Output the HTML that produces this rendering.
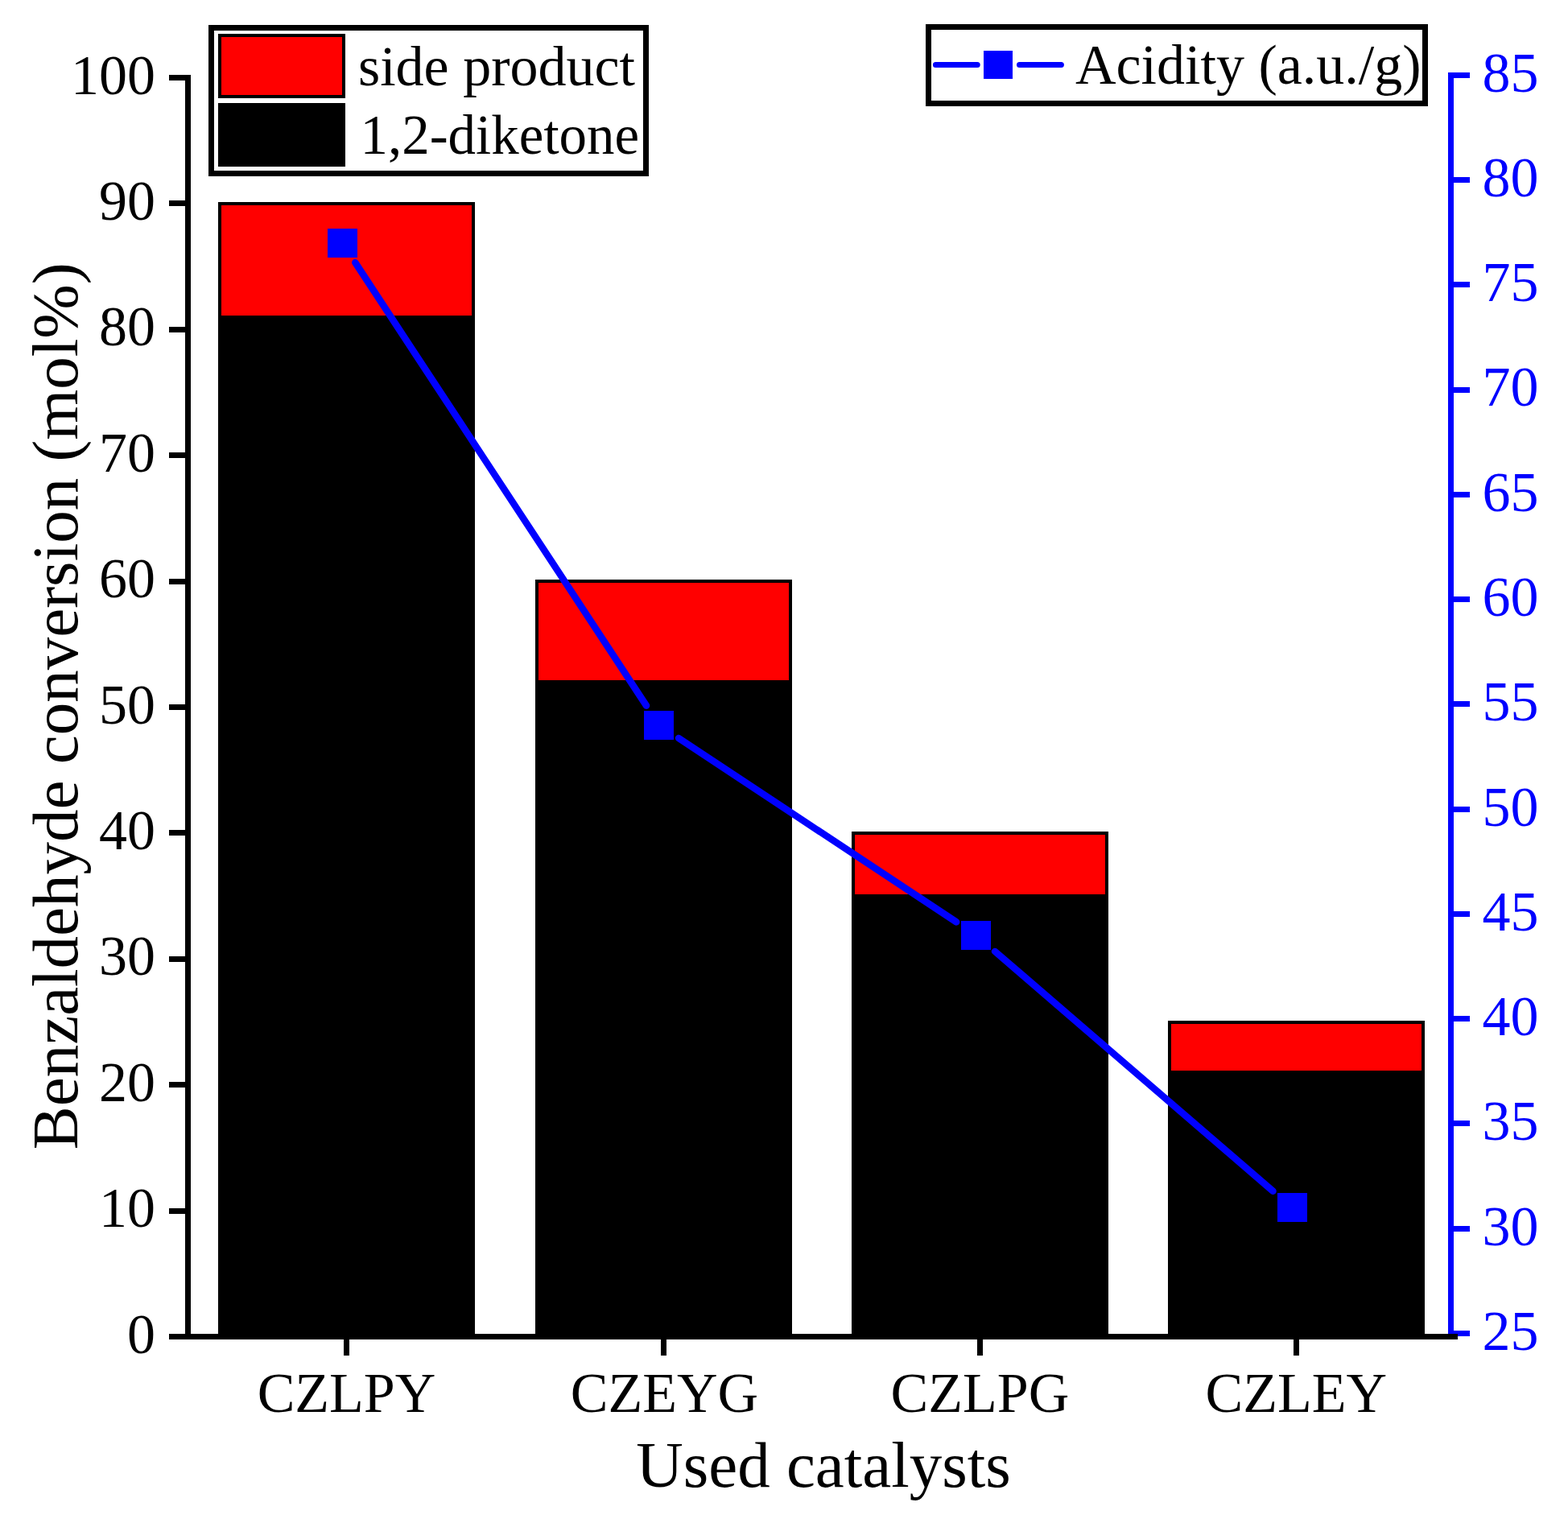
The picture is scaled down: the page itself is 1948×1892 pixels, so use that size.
<!DOCTYPE html><html><head><meta charset="utf-8"><style>html,body{margin:0;padding:0;background:#fff}svg{display:block}rect{shape-rendering:crispEdges}text{font-family:"Liberation Serif","Times New Roman",serif}</style></head><body>
<svg width="1948" height="1892" viewBox="0 0 1948 1892">
<rect x="0" y="0" width="1948" height="1892" fill="#fff"/>
<rect x="273.0" y="252.9" width="315" height="140.8" fill="#ff0000" stroke="#000" stroke-width="4"/>
<rect x="273.0" y="393.7" width="315" height="1266.8" fill="#000" stroke="#000" stroke-width="4"/>
<rect x="666.5" y="722.1" width="315" height="125.1" fill="#ff0000" stroke="#000" stroke-width="4"/>
<rect x="666.5" y="847.2" width="315" height="813.3" fill="#000" stroke="#000" stroke-width="4"/>
<rect x="1059.9" y="1034.9" width="315" height="78.2" fill="#ff0000" stroke="#000" stroke-width="4"/>
<rect x="1059.9" y="1113.1" width="315" height="547.4" fill="#000" stroke="#000" stroke-width="4"/>
<rect x="1452.8" y="1269.5" width="315" height="62.6" fill="#ff0000" stroke="#000" stroke-width="4"/>
<rect x="1452.8" y="1332.1" width="315" height="328.4" fill="#000" stroke="#000" stroke-width="4"/>
<line x1="441.3" y1="326.1" x2="803.0" y2="876.7" stroke="#0000ff" stroke-width="8.5" stroke-linecap="round"/>
<line x1="843.1" y1="917.0" x2="1188.1" y2="1145.4" stroke="#0000ff" stroke-width="8.5" stroke-linecap="round"/>
<line x1="1236.0" y1="1181.9" x2="1581.5" y2="1479.7" stroke="#0000ff" stroke-width="8.5" stroke-linecap="round"/>
<rect x="406.9" y="283.8" width="37" height="36" fill="#0000ff"/>
<rect x="800.4" y="883.0" width="37" height="36" fill="#0000ff"/>
<rect x="1193.8" y="1143.5" width="37" height="36" fill="#0000ff"/>
<rect x="1586.7" y="1482.1" width="37" height="36" fill="#0000ff"/>
<rect x="230" y="93" width="7" height="1571" fill="#000"/>
<rect x="210" y="1657.0" width="20" height="7" fill="#000"/>
<text x="193.1" y="1680.5" font-size="70" text-anchor="end">0</text>
<rect x="210" y="1500.6" width="20" height="7" fill="#000"/>
<text x="193.1" y="1524.1" font-size="70" text-anchor="end">10</text>
<rect x="210" y="1344.2" width="20" height="7" fill="#000"/>
<text x="193.1" y="1367.7" font-size="70" text-anchor="end">20</text>
<rect x="210" y="1187.8" width="20" height="7" fill="#000"/>
<text x="193.1" y="1211.3" font-size="70" text-anchor="end">30</text>
<rect x="210" y="1031.4" width="20" height="7" fill="#000"/>
<text x="193.1" y="1054.9" font-size="70" text-anchor="end">40</text>
<rect x="210" y="875.0" width="20" height="7" fill="#000"/>
<text x="193.1" y="898.5" font-size="70" text-anchor="end">50</text>
<rect x="210" y="718.6" width="20" height="7" fill="#000"/>
<text x="193.1" y="742.1" font-size="70" text-anchor="end">60</text>
<rect x="210" y="562.2" width="20" height="7" fill="#000"/>
<text x="193.1" y="585.7" font-size="70" text-anchor="end">70</text>
<rect x="210" y="405.8" width="20" height="7" fill="#000"/>
<text x="193.1" y="429.3" font-size="70" text-anchor="end">80</text>
<rect x="210" y="249.4" width="20" height="7" fill="#000"/>
<text x="193.1" y="272.9" font-size="70" text-anchor="end">90</text>
<rect x="210" y="93.0" width="20" height="7" fill="#000"/>
<text x="193.1" y="116.5" font-size="70" text-anchor="end">100</text>
<rect x="1799" y="90" width="7" height="1571" fill="#0000ff"/>
<rect x="1806" y="1652.9" width="20" height="7" fill="#0000ff"/>
<text x="1841.4" y="1676.7" font-size="70" fill="#0000ff">25</text>
<rect x="1806" y="1522.7" width="20" height="7" fill="#0000ff"/>
<text x="1841.4" y="1546.5" font-size="70" fill="#0000ff">30</text>
<rect x="1806" y="1392.4" width="20" height="7" fill="#0000ff"/>
<text x="1841.4" y="1416.2" font-size="70" fill="#0000ff">35</text>
<rect x="1806" y="1262.2" width="20" height="7" fill="#0000ff"/>
<text x="1841.4" y="1286.0" font-size="70" fill="#0000ff">40</text>
<rect x="1806" y="1131.9" width="20" height="7" fill="#0000ff"/>
<text x="1841.4" y="1155.7" font-size="70" fill="#0000ff">45</text>
<rect x="1806" y="1001.6" width="20" height="7" fill="#0000ff"/>
<text x="1841.4" y="1025.5" font-size="70" fill="#0000ff">50</text>
<rect x="1806" y="871.4" width="20" height="7" fill="#0000ff"/>
<text x="1841.4" y="895.2" font-size="70" fill="#0000ff">55</text>
<rect x="1806" y="741.1" width="20" height="7" fill="#0000ff"/>
<text x="1841.4" y="764.9" font-size="70" fill="#0000ff">60</text>
<rect x="1806" y="610.9" width="20" height="7" fill="#0000ff"/>
<text x="1841.4" y="634.7" font-size="70" fill="#0000ff">65</text>
<rect x="1806" y="480.6" width="20" height="7" fill="#0000ff"/>
<text x="1841.4" y="504.4" font-size="70" fill="#0000ff">70</text>
<rect x="1806" y="350.4" width="20" height="7" fill="#0000ff"/>
<text x="1841.4" y="374.2" font-size="70" fill="#0000ff">75</text>
<rect x="1806" y="220.2" width="20" height="7" fill="#0000ff"/>
<text x="1841.4" y="244.0" font-size="70" fill="#0000ff">80</text>
<rect x="1806" y="89.9" width="20" height="7" fill="#0000ff"/>
<text x="1841.4" y="113.7" font-size="70" fill="#0000ff">85</text>
<rect x="230" y="1657" width="1581" height="7" fill="#000"/>
<rect x="427.0" y="1664" width="7" height="20" fill="#000"/>
<text x="430.5" y="1754.4" font-size="70" text-anchor="middle">CZLPY</text>
<rect x="820.5" y="1664" width="7" height="20" fill="#000"/>
<text x="825.5" y="1754.4" font-size="70" text-anchor="middle">CZEYG</text>
<rect x="1213.9" y="1664" width="7" height="20" fill="#000"/>
<text x="1217.4" y="1754.4" font-size="70" text-anchor="middle">CZLPG</text>
<rect x="1606.8" y="1664" width="7" height="20" fill="#000"/>
<text x="1610.3" y="1754.4" font-size="70" text-anchor="middle">CZLEY</text>
<text x="790.2" y="1846.5" font-size="81">Used catalysts</text>
<text transform="translate(96.1,1428.3) rotate(-90)" x="0" y="0" font-size="81">Benzaldehyde conversion (mol%)</text>
<rect x="262.5" y="34.5" width="540" height="180.5" fill="#fff" stroke="#000" stroke-width="7"/>
<rect x="273" y="44" width="154" height="76" fill="#ff0000" stroke="#000" stroke-width="4"/>
<rect x="271" y="128" width="158" height="79" fill="#000"/>
<text x="444.9" y="106" font-size="70">side product</text>
<text x="447.4" y="190.8" font-size="70" textLength="346.8" lengthAdjust="spacingAndGlyphs">1,2-diketone</text>
<rect x="1153.5" y="33.5" width="616.9" height="94.7" fill="#fff" stroke="#000" stroke-width="7"/>
<line x1="1162.4" y1="80.4" x2="1214.2" y2="80.4" stroke="#0000ff" stroke-width="7" stroke-linecap="round"/>
<line x1="1266.5" y1="80.4" x2="1318.4" y2="80.4" stroke="#0000ff" stroke-width="7" stroke-linecap="round"/>
<rect x="1222" y="62.8" width="36" height="35.2" fill="#0000ff"/>
<text x="1336" y="104.3" font-size="70">Acidity (a.u./g)</text>
</svg></body></html>
